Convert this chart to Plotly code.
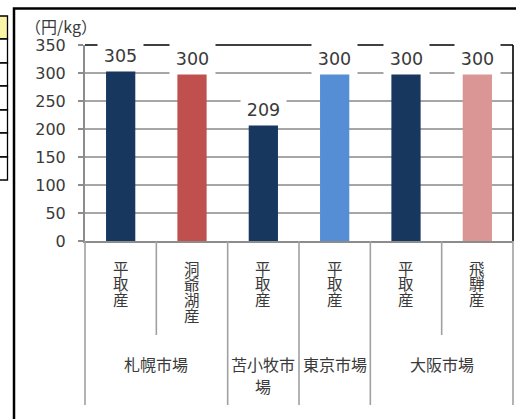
import plotly.graph_objects as go

# --- data -------------------------------------------------------------
markets = ["札幌市場", "札幌市場", "苫小牧市場", "東京市場", "大阪市場", "大阪市場"]
origins = ["平取産", "洞爺湖産", "平取産", "平取産", "平取産", "飛騨産"]
prices = [305, 300, 209, 300, 300, 300]
bar_colors = ["#17375E", "#C0504D", "#17375E", "#558ED5", "#17375E", "#D99694"]
y_ticks = [0, 50, 100, 150, 200, 250, 300, 350]
unit_label = "（円/kg）"

# --- page geometry (pixels) -------------------------------------------
W, H = 516, 419
L, R, T, B = 85, 3, 45, 178
PW = W - L - R
PH = H - T - B

JP = "Noto Sans CJK JP"
NUM = "DejaVu Sans"
TXT = "#3A3A3A"
AXIS = "#8C8C8C"
DIV = "#A0A0A0"


def px_x(px):
    return (px - L) / PW


def px_y(py):
    return (H - B - py) / PH


n = len(prices)
xs = list(range(n))

fig = go.Figure(
    go.Bar(
        x=xs,
        y=prices,
        marker=dict(color=bar_colors, line=dict(width=0)),
        width=0.41,
        hoverinfo="skip",
    )
)

shapes = []
# outer chart frame
shapes.append(dict(type="rect", xref="paper", yref="paper",
                   x0=px_x(14), x1=px_x(540), y0=px_y(440), y1=px_y(8.5),
                   line=dict(color="black", width=2.5), layer="below"))
# worksheet cells at the left edge
row_edges = [16, 39, 63, 86, 110, 133, 157, 180]
for k in range(len(row_edges) - 1):
    shapes.append(dict(type="rect", xref="paper", yref="paper",
                       x0=px_x(-10), x1=px_x(7.5),
                       y0=px_y(row_edges[k + 1]), y1=px_y(row_edges[k]),
                       fillcolor="#FAF4A6" if k == 0 else "white",
                       line=dict(color="black", width=1.3), layer="below"))
# plot-area border (top and right)
shapes.append(dict(type="line", xref="paper", yref="paper", x0=0, x1=1, y0=1, y1=1,
                   line=dict(color="black", width=1.6), layer="above"))
shapes.append(dict(type="line", xref="paper", yref="paper", x0=1, x1=1, y0=0, y1=1,
                   line=dict(color="black", width=1.6), layer="above"))

# category dividers: short inside a market group, long between groups
for k in range(n + 1):
    inner = 0 < k < n and markets[k - 1] == markets[k]
    shapes.append(dict(type="line", xref="paper", yref="paper",
                       x0=k / n, x1=k / n, y0=0, y1=px_y(335 if inner else 405),
                       line=dict(color=DIV, width=1.6)))

annotations = []
# value labels with white boxes
for i, v in enumerate(prices):
    annotations.append(dict(x=i, y=v, xref="x", yref="y", text=str(v),
                            showarrow=False, yanchor="middle", yshift=14,
                            bgcolor="white", width=35, borderpad=5,
                            font=dict(family=NUM, size=17.5, color=TXT)))

# vertical origin labels, one character per line
for i, name in enumerate(origins):
    for k, ch in enumerate(name):
        annotations.append(dict(x=i, y=0, xref="x", yref="y", text=ch,
                                showarrow=False, yanchor="middle", borderpad=0,
                                yshift=-(26.5 + 15.8 * k),
                                font=dict(family=JP, size=15.5, color=TXT)))

# market group labels
groups = []
for i, m in enumerate(markets):
    if groups and groups[-1][0] == m:
        groups[-1][1].append(i)
    else:
        groups.append([m, [i]])
for m, idx in groups:
    per_line = 4 * len(idx)
    lines = [m[j:j + per_line] for j in range(0, len(m), per_line)]
    cx = sum(idx) / len(idx)
    for j, ln in enumerate(lines):
        annotations.append(dict(x=cx, y=0, xref="x", yref="y", text=ln,
                                showarrow=False, yanchor="middle", borderpad=0,
                                yshift=-(122.5 + 22.5 * j),
                                font=dict(family=JP, size=16, color=TXT)))

# unit label
annotations.append(dict(x=px_x(24), y=px_y(26), xref="paper", yref="paper",
                        text=unit_label, showarrow=False, xanchor="left",
                        yanchor="middle", borderpad=0,
                        font=dict(family=JP, size=16, color=TXT)))

fig.update_layout(
    width=W, height=H,
    margin=dict(l=L, r=R, t=T, b=B, pad=0),
    paper_bgcolor="white", plot_bgcolor="white",
    showlegend=False,
    shapes=shapes,
    annotations=annotations,
    xaxis=dict(range=[-0.5, n - 0.5], showticklabels=False, showgrid=False,
               zeroline=False, showline=True, linecolor=AXIS, linewidth=2,
               ticks="", fixedrange=True),
    yaxis=dict(range=[0, 350], tickvals=y_ticks, showgrid=True,
               gridcolor="#A6A6A6", gridwidth=1.5, zeroline=False,
               showline=True, linecolor=AXIS, linewidth=2,
               ticks="outside", ticklen=5, tickcolor=AXIS, tickwidth=1.5,
               ticklabelstandoff=9,
               tickfont=dict(family=NUM, size=16, color=TXT), fixedrange=True),
)

fig.write_html("out.html")
